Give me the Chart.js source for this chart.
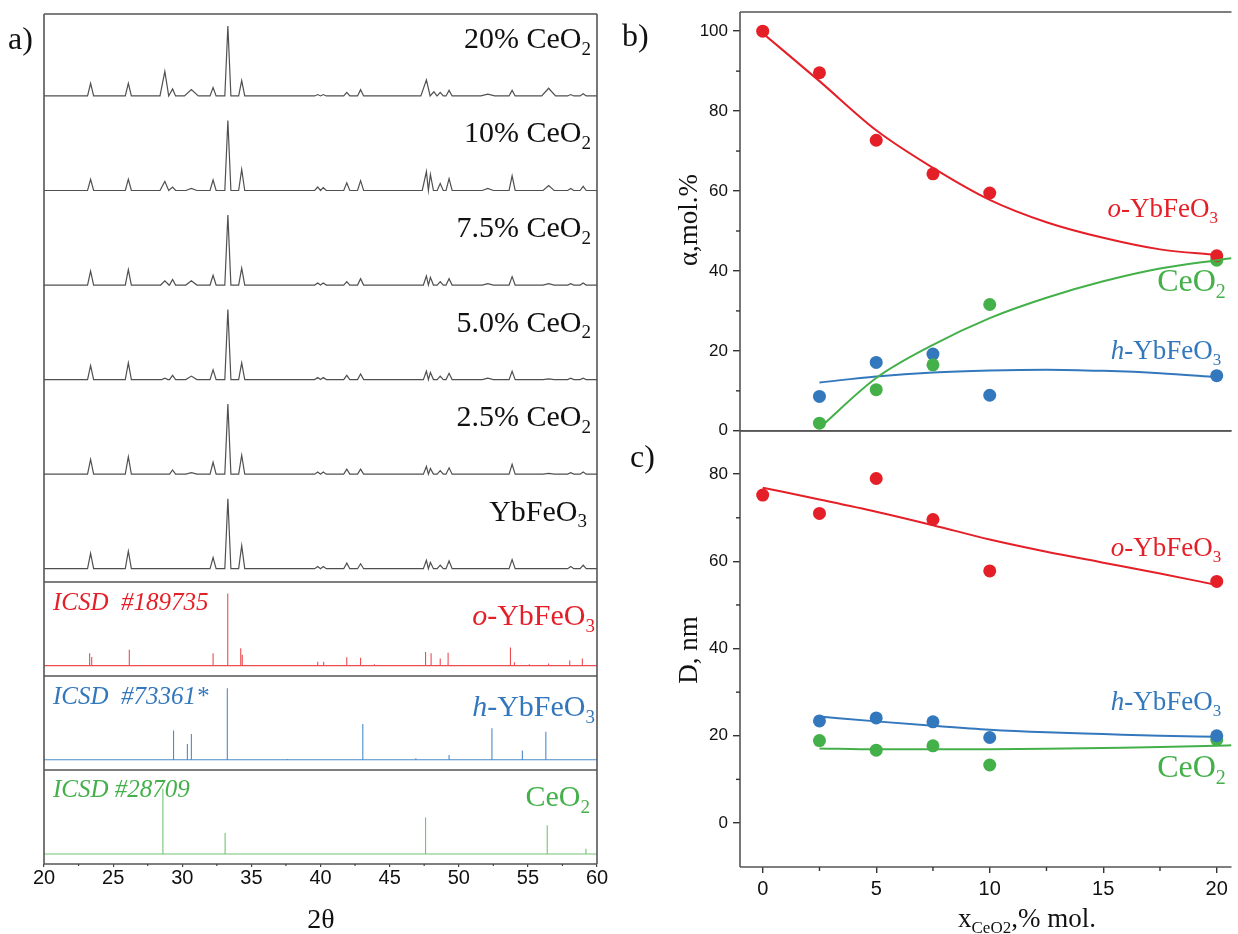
<!DOCTYPE html>
<html>
<head>
<meta charset="utf-8">
<script src="https://cdn.jsdelivr.net/npm/chart.js@4.4.1/dist/chart.umd.min.js"></script>
<style>
    body { margin: 0; background: #fff; width: 1238px; height: 934px; overflow: hidden; position: relative; }
    canvas { position: absolute; }
</style>
</head>
<body>
<canvas id="a1" width="620" height="582" style="left:0;top:0"></canvas>
<canvas id="a2" width="620" height="94" style="left:0;top:582px"></canvas>
<canvas id="a3" width="620" height="94" style="left:0;top:676px"></canvas>
<canvas id="a4" width="620" height="164" style="left:0;top:770px"></canvas>
<canvas id="b" width="618" height="466" style="left:620px;top:-20px"></canvas>
<canvas id="c" width="618" height="533" style="left:620px;top:401px"></canvas>
<script>
// ---------- a) XRD patterns: peaks as [2θ, intensity (main peak = 100), half width at base]
const twoThetaTicks = [20, 25, 30, 35, 40, 45, 50, 55, 60];
const twoThetaMinor = [22.5, 27.5, 32.5, 37.5, 42.5, 47.5, 52.5, 57.5];

const peaksYbFeO3 = [[23.37, 22], [26.1, 25], [32.23, 16], [33.3, 100], [34.3, 33], [39.8, 3], [40.2, 3], [41.9, 8], [42.9, 7],
    [47.66, 12], [47.95, 9], [48.66, 5], [49.3, 11], [53.86, 13], [58.1, 3], [59.0, 5]];
const peaks2_5 = [[23.37, 21], [26.1, 25], [29.3, 6], [30.66, 2, 0.4], [32.23, 17], [33.3, 100], [34.3, 27], [39.8, 3], [40.2, 3],
    [41.9, 7], [42.9, 7], [47.66, 11], [47.95, 8], [48.66, 5], [49.3, 9], [53.86, 14], [56.5, 1, 0.4], [58.1, 2], [59.0, 3]];
const peaks5_0 = [[23.37, 20], [26.1, 24], [28.74, 2], [29.3, 6], [30.66, 5, 0.4], [32.23, 14], [33.3, 100], [34.3, 24], [39.8, 3],
    [40.2, 3], [41.9, 6], [42.9, 8], [47.66, 12], [47.95, 10], [48.66, 5], [49.3, 9], [52.1, 2, 0.4], [53.86, 12], [56.5, 1, 0.4],
    [58.1, 2], [59.0, 2]];
const peaks7_5 = [[23.37, 20], [26.1, 22], [28.74, 6, 0.3], [29.3, 8], [30.66, 6, 0.4], [32.23, 14], [33.3, 100], [34.3, 24], [39.8, 3],
    [40.2, 3], [41.9, 5], [42.9, 9], [47.66, 13], [47.95, 11], [48.66, 5], [49.3, 9], [52.1, 2, 0.4], [53.86, 12], [56.5, 2, 0.4],
    [58.1, 2], [59.0, 3]];
const peaks10 = [[23.37, 16], [26.1, 16], [28.74, 13, 0.35], [29.3, 5], [30.66, 3, 0.4], [32.23, 15], [33.3, 100], [34.3, 30], [39.8, 5],
    [40.2, 4], [41.9, 11], [42.9, 14], [47.66, 27, 0.3], [47.95, 23], [48.66, 10], [49.3, 17], [52.1, 3, 0.4], [53.86, 21],
    [56.5, 7, 0.4], [58.1, 3], [59.0, 6]];
const peaks20 = [[23.37, 18], [26.1, 18], [28.74, 35, 0.35], [29.3, 10], [30.66, 9, 0.5], [32.23, 12], [33.3, 100], [34.3, 22], [39.8, 2],
    [40.2, 2], [41.9, 5], [42.9, 9], [47.66, 23, 0.4], [48.2, 6], [48.66, 5], [49.3, 8], [52.1, 2.5, 0.5], [53.86, 8],
    [56.5, 11, 0.5], [58.1, 2], [59.0, 3]];

// ICSD reference sticks [2θ, relative intensity]
const refOrtho = [[23.3, 17], [23.45, 12], [26.17, 22], [32.23, 17], [33.29, 100], [34.23, 24], [34.34, 15], [39.8, 5.5], [40.23, 5.5],
    [41.9, 11.5], [42.9, 11], [43.9, 2], [47.6, 19], [48.0, 17], [48.66, 10], [49.23, 18], [52.9, 1], [53.74, 25], [54.03, 4.6],
    [55.1, 2], [56.5, 3], [58.03, 7], [58.94, 10]];
const refHex = [[29.37, 41], [30.37, 22], [30.66, 36], [33.26, 100], [37.6, 1], [43.06, 50], [46.9, 2], [49.3, 6.5], [52.4, 44],
    [54.6, 13], [56.3, 39]];
const refCeria = [[28.6, 100], [33.1, 32], [47.6, 56], [56.4, 44], [59.2, 8]];

// ---------- b), c) phase content and crystallite size vs x(CeO2)
const xAll = [0, 2.5, 5, 7.5, 10, 20];
const xDoped = [2.5, 5, 7.5, 10, 20];
const alphaOrtho = [100, 89.6, 72.7, 64.3, 59.5, 43.8];
const alphaCeria = [1.9, 10.3, 16.5, 31.6, 42.7];
const alphaHex = [8.6, 17.1, 19.2, 8.9, 13.8];
const sizeOrtho = [75.2, 71, 79, 69.6, 57.8, 55.4];
const sizeHex = [23.4, 24.1, 23.2, 19.6, 20];
const sizeCeria = [18.9, 16.7, 17.7, 13.3, 19.1];

// fitted curves
const fitXAll = [0, 2.5, 5, 7.5, 10, 12.5, 15, 17.5, 20];
const fitXDoped = [2.5, 5, 7.5, 10, 12.5, 15, 17.5, 20];
const fitXEdge = [2.5, 5, 7.5, 10, 12.5, 15, 17.5, 20, 20.65];
const alphaOrthoFit = [99.5, 87.5, 75.2, 65.8, 57.8, 52.2, 48.3, 45.4, 44.0];
const alphaCeriaFit = [0.7, 13.2, 21.5, 28.2, 33.3, 37.4, 40.6, 42.7, 43.2];
const alphaHexFit = [12.1, 13.6, 14.6, 15.1, 15.3, 15.0, 14.4, 13.4];
const sizeOrthoFit = [76.9, 74.2, 71.4, 68.3, 65.0, 62.2, 59.7, 57.2, 54.6];
const sizeHexFit = [24.4, 23.3, 22.3, 21.4, 20.8, 20.4, 20.0, 19.8];
const sizeCeriaFit = [17.1, 16.9, 16.9, 16.9, 17.0, 17.2, 17.4, 17.7, 17.8];

const bTicks = [0, 20, 40, 60, 80, 100];
const bMinor = [10, 30, 50, 70, 90];
const cTicks = [0, 20, 40, 60, 80];
const cMinor = [10, 30, 50, 70];
const xTicks = [0, 5, 10, 15, 20];
const xMinor = [2.5, 7.5, 12.5, 17.5];

// ---------- styles
const serif = '"Liberation Serif", "Times New Roman", serif';
const sans = '"Liberation Sans", Arial, sans-serif';
const RED = '#e51f27', BLUE = '#3378bd', GREEN = '#44b04a';
const RED_REF = '#ec4d52', BLUE_REF = '#4a8ccb', GREEN_REF = '#72c472';
const FRAME = '#555';
const TRACE_STEP = 135;   // vertical offset between stacked patterns
const HALF_WIDTH = 0.22;  // default peak half width at base

// text with italic / subscript parts: [text, 'n' | 'i' | 's']
function rich(ctx, parts, x, y, size, color, align) {
    const font = (k) => (k === 'i' ? 'italic ' : '') + (k === 's' ? Math.round(size * 0.62) : size) + 'px ' + serif;
    let total = 0;
    parts.forEach(([t, k]) => { ctx.font = font(k); total += ctx.measureText(t).width; });
    let cx = align === 'right' ? x - total : (align === 'center' ? x - total / 2 : x);
    ctx.save();
    ctx.fillStyle = color;
    ctx.textAlign = 'left';
    ctx.textBaseline = 'alphabetic';
    parts.forEach(([t, k]) => {
        ctx.font = font(k);
        ctx.fillText(t, cx, k === 's' ? y + size * 0.22 : y);
        cx += ctx.measureText(t).width;
    });
    ctx.restore();
}

function pattern(peaks, hw) {
    const pts = [{x: 20, y: 0}];
    let prev = null;
    peaks.forEach((p) => {
        const w = p[2] !== undefined ? p[2] : hw;
        const last = pts[pts.length - 1];
        if (prev !== null && p[0] - w <= last.x) {
            last.x = (prev + p[0]) / 2;
        } else {
            pts.push({x: p[0] - w, y: 0});
        }
        pts.push({x: p[0], y: p[1]});
        pts.push({x: p[0] + w, y: 0});
        prev = p[0];
    });
    pts.push({x: 60, y: 0});
    return pts;
}

function frame(ctx, ca, sides) {
    ctx.save();
    ctx.strokeStyle = FRAME;
    ctx.lineWidth = 1.6;
    ctx.beginPath();
    if (sides.includes('l')) { ctx.moveTo(ca.left, ca.top); ctx.lineTo(ca.left, ca.bottom); }
    if (sides.includes('t')) { ctx.moveTo(ca.left, ca.top); ctx.lineTo(ca.right, ca.top); }
    if (sides.includes('b')) { ctx.moveTo(ca.left, ca.bottom); ctx.lineTo(ca.right, ca.bottom); }
    if (sides.includes('r')) { ctx.moveTo(ca.right, ca.top); ctx.lineTo(ca.right, ca.bottom); }
    ctx.stroke();
    ctx.restore();
}

function panelA(id, datasets, yMin, yMax, padTop, withAxis, deco) {
    return new Chart(document.getElementById(id), {
        type: 'line',
        data: { datasets: datasets },
        options: {
            responsive: false,
            animation: false,
            events: [],
            layout: { padding: { left: 44, right: 23, top: padTop, bottom: 0 } },
            plugins: { legend: { display: false }, tooltip: { enabled: false } },
            scales: {
                x: {
                    type: 'linear', min: 20, max: 60, display: withAxis,
                    afterBuildTicks: (s) => { s.ticks = twoThetaTicks.map((v) => ({ value: v })); },
                    afterFit: (s) => { if (withAxis) s.height = 70; },
                    grid: { drawOnChartArea: false, tickLength: 3, color: '#444', lineWidth: 1.2 },
                    border: { display: false },
                    ticks: { color: '#111', font: { family: sans, size: 20, lineHeight: 1 }, padding: 1, maxRotation: 0, autoSkip: false }
                },
                y: { type: 'linear', min: yMin, max: yMax, display: false }
            }
        },
        plugins: [{
            id: 'deco',
            afterDraw: (chart) => {
                frame(chart.ctx, chart.chartArea, 'ltbr');
                deco(chart);
            }
        }]
    });
}

function lineSet(points, color, width) {
    return { data: points, borderColor: color, borderWidth: width, pointRadius: 0, tension: 0, fill: false };
}

// a) sample patterns, stacked
const samplePatterns = [peaksYbFeO3, peaks2_5, peaks5_0, peaks7_5, peaks10, peaks20];
const sampleLabels = [
    [['YbFeO', 'n'], ['3', 's']],
    [['2.5% CeO', 'n'], ['2', 's']],
    [['5.0% CeO', 'n'], ['2', 's']],
    [['7.5% CeO', 'n'], ['2', 's']],
    [['10% CeO', 'n'], ['2', 's']],
    [['20% CeO', 'n'], ['2', 's']]
];
const sampleSets = samplePatterns.map((pk, i) =>
    lineSet(pattern(pk, HALF_WIDTH).map((p) => ({ x: p.x, y: p.y + i * TRACE_STEP })), '#505050', 1.2));

panelA('a1', sampleSets, -19, 792, 14, false, (chart) => {
    const ctx = chart.ctx;
    const y = chart.scales.y;
    sampleLabels.forEach((parts, i) => {
        const base = y.getPixelForValue(i * TRACE_STEP);
        rich(ctx, parts, i === 0 ? 587 : 591, base - 58 + 10, 30, '#111', 'right');
    });
    rich(ctx, [['a)', 'n']], 8, 49, 32, '#111', 'left');
});

panelA('a2', [lineSet(pattern(refOrtho, 0), RED_REF, 1.1)], -14.4, 116, 0, false, (chart) => {
    rich(chart.ctx, [['ICSD  #189735', 'i']], 53, 28, 25, RED, 'left');
    rich(chart.ctx, [['o', 'i'], ['-YbFeO', 'n'], ['3', 's']], 595, 43, 30, RED, 'right');
});

panelA('a3', [lineSet(pattern(refHex, 0), BLUE_REF, 1.1)], -14.3, 117, 0, false, (chart) => {
    rich(chart.ctx, [['ICSD  #73361*', 'i']], 53, 28, 25, BLUE, 'left');
    rich(chart.ctx, [['h', 'i'], ['-YbFeO', 'n'], ['3', 's']], 595, 40, 30, BLUE, 'right');
});

panelA('a4', [lineSet(pattern(refCeria, 0), GREEN_REF, 1.1)], -15.4, 128.8, 0, true, (chart) => {
    const ctx = chart.ctx;
    const ca = chart.chartArea;
    const x = chart.scales.x;
    ctx.save();
    ctx.strokeStyle = '#444';
    ctx.lineWidth = 1.2;
    twoThetaMinor.forEach((v) => {
        const px = x.getPixelForValue(v);
        ctx.beginPath(); ctx.moveTo(px, ca.bottom); ctx.lineTo(px, ca.bottom + 2); ctx.stroke();
    });
    ctx.restore();
    rich(ctx, [['ICSD #28709', 'i']], 53, 27, 25, GREEN, 'left');
    rich(ctx, [['CeO', 'n'], ['2', 's']], 590, 36, 30, GREEN, 'right');
    rich(ctx, [['2θ', 'n']], 321, 158, 28, '#111', 'center');
});

// b), c)
function scatterSet(xs, ys, color) {
    return {
        data: xs.map((x, i) => ({ x: x, y: ys[i] })),
        showLine: false, pointRadius: 6.5, pointBorderWidth: 0,
        pointBackgroundColor: color, borderColor: color, backgroundColor: color
    };
}
function fitSet(xs, ys, color) {
    return {
        data: xs.map((x, i) => ({ x: x, y: ys[i] })),
        borderColor: color, borderWidth: 2, pointRadius: 0,
        tension: 0.4, cubicInterpolationMode: 'monotone', fill: false
    };
}

function panelRight(id, datasets, yMin, yMax, ticks, minor, pad, showX, deco) {
    return new Chart(document.getElementById(id), {
        type: 'line',
        data: { datasets: datasets },
        options: {
            responsive: false,
            animation: false,
            events: [],
            layout: { padding: pad },
            plugins: { legend: { display: false }, tooltip: { enabled: false } },
            scales: {
                x: {
                    type: 'linear', min: -1, max: 20.65, display: showX,
                    afterBuildTicks: (s) => { s.ticks = xTicks.map((v) => ({ value: v })); },
                    afterFit: (s) => { if (showX) s.height = 67; },
                    grid: { drawOnChartArea: false, tickLength: 6, color: '#333', lineWidth: 1.4 },
                    border: { display: false },
                    ticks: { color: '#111', font: { family: sans, size: 20, lineHeight: 1 }, padding: 6, maxRotation: 0, autoSkip: false }
                },
                y: {
                    type: 'linear', min: yMin, max: yMax,
                    afterBuildTicks: (s) => { s.ticks = ticks.map((v) => ({ value: v })); },
                    afterFit: (s) => { s.width = 120; },
                    grid: { drawOnChartArea: false, tickLength: 7, color: '#333', lineWidth: 1.4 },
                    border: { display: false },
                    ticks: { color: '#111', font: { family: sans, size: 17 }, padding: 5 }
                }
            }
        },
        plugins: [{
            id: 'deco',
            afterDraw: (chart) => {
                const ctx = chart.ctx;
                const ca = chart.chartArea;
                frame(ctx, ca, 'ltb');
                ctx.save();
                ctx.strokeStyle = '#333';
                ctx.lineWidth = 1.4;
                minor.forEach((v) => {
                    const py = chart.scales.y.getPixelForValue(v);
                    ctx.beginPath(); ctx.moveTo(ca.left - 4, py); ctx.lineTo(ca.left, py); ctx.stroke();
                });
                if (showX) {
                    xMinor.forEach((v) => {
                        const px = chart.scales.x.getPixelForValue(v);
                        ctx.beginPath(); ctx.moveTo(px, ca.bottom); ctx.lineTo(px, ca.bottom + 4); ctx.stroke();
                    });
                }
                ctx.restore();
                deco(chart);
            }
        }]
    });
}

panelRight('b', [
    fitSet(fitXAll, alphaOrthoFit, RED),
    fitSet(fitXEdge, alphaCeriaFit, GREEN),
    fitSet(fitXDoped, alphaHexFit, BLUE),
    scatterSet(xAll, alphaOrtho, RED),
    scatterSet(xDoped, alphaCeria, GREEN),
    scatterSet(xDoped, alphaHex, BLUE)
], 0, 104.8, bTicks, bMinor, { top: 32, bottom: 15, left: 0, right: 0 }, false, (chart) => {
    const ctx = chart.ctx;
    const x = chart.scales.x, y = chart.scales.y;
    rich(ctx, [['o', 'i'], ['-YbFeO', 'n'], ['3', 's']], x.getPixelForValue(20.05), y.getPixelForValue(55.8) + 9, 27, RED, 'right');
    rich(ctx, [['CeO', 'n'], ['2', 's']], x.getPixelForValue(20.4), y.getPixelForValue(37.8) + 11, 32, GREEN, 'right');
    rich(ctx, [['h', 'i'], ['-YbFeO', 'n'], ['3', 's']], x.getPixelForValue(20.2), y.getPixelForValue(20.3) + 9, 27, BLUE, 'right');
    // y title and panel letter
    ctx.save();
    ctx.translate(688 - 620, 220 + 20);
    ctx.rotate(-Math.PI / 2);
    rich(ctx, [['α,mol.%', 'n']], 0, 9, 27, '#111', 'center');
    ctx.restore();
    rich(ctx, [['b)', 'n']], 2, 35 + 20 + 11, 32, '#111', 'left');
});

panelRight('c', [
    fitSet(fitXAll, sizeOrthoFit, RED),
    fitSet(fitXDoped, sizeHexFit, BLUE),
    fitSet(fitXEdge, sizeCeriaFit, GREEN),
    scatterSet(xAll, sizeOrtho, RED),
    scatterSet(xDoped, sizeHex, BLUE),
    scatterSet(xDoped, sizeCeria, GREEN)
], -10.1, 89.9, cTicks, cMinor, { top: 30, bottom: 0, left: 0, right: 0 }, true, (chart) => {
    const ctx = chart.ctx;
    const x = chart.scales.x, y = chart.scales.y;
    rich(ctx, [['o', 'i'], ['-YbFeO', 'n'], ['3', 's']], x.getPixelForValue(20.2), y.getPixelForValue(63.3) + 9, 27, RED, 'right');
    rich(ctx, [['h', 'i'], ['-YbFeO', 'n'], ['3', 's']], x.getPixelForValue(20.2), y.getPixelForValue(28) + 9, 27, BLUE, 'right');
    rich(ctx, [['CeO', 'n'], ['2', 's']], x.getPixelForValue(20.4), y.getPixelForValue(13.1) + 11, 32, GREEN, 'right');
    ctx.save();
    ctx.translate(688 - 620, 650 - 401);
    ctx.rotate(-Math.PI / 2);
    rich(ctx, [['D, nm', 'n']], 0, 9, 27, '#111', 'center');
    ctx.restore();
    rich(ctx, [['c)', 'n']], 10, 456 - 401 + 11, 32, '#111', 'left');
    rich(ctx, [['x', 'n'], ['CeO2', 's'], [',% mol.', 'n']], 958 - 620, 918 - 401 + 9, 27, '#111', 'left');
});
</script>
</body>
</html>
